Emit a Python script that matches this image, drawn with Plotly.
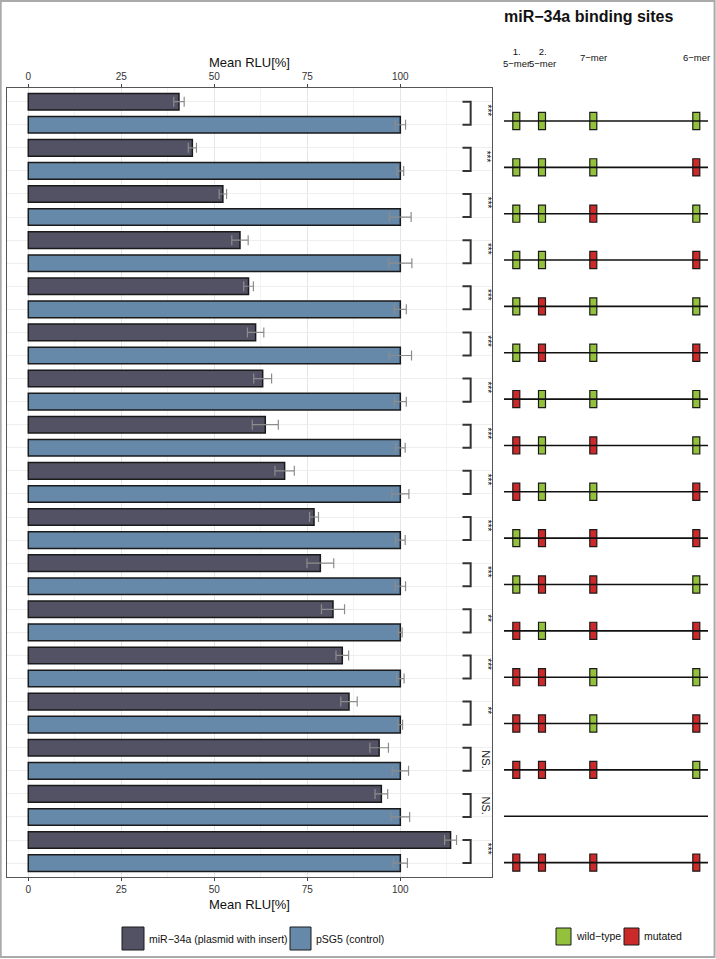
import plotly.graph_objects as go

# ─────────────────────────────────────────────
# data
# ─────────────────────────────────────────────
mir_mean = [40.5, 44.1, 52.3, 56.9, 59.2, 61.1, 63.0, 63.7, 68.9, 76.8,
            78.5, 81.9, 84.4, 86.2, 94.3, 94.9, 113.5]
mir_se = [1.4, 1.1, 1.0, 2.2, 1.3, 2.2, 2.4, 3.5, 2.6, 1.2,
          3.6, 3.1, 1.7, 2.2, 2.5, 1.7, 1.6]
ctrl_mean = [100.0] * 17
ctrl_se = [1.4, 0.9, 2.9, 3.1, 1.6, 3.0, 1.6, 1.3, 2.3, 1.3,
           1.4, 0.5, 1.0, 0.6, 2.2, 2.5, 1.9]
signif = ["***"] * 11 + ["**", "***", "**", "NS.", "NS.", "***"]

# binding sites per construct: W = wild-type, M = mutated ("" = no sites)
site_status = ["WWWW", "WWWM", "WWMW", "WWMM", "WMWW", "WMWM", "MWWW", "MWMW",
               "MWWM", "WMMM", "WMMW", "MWMM", "MMWW", "MMWM", "MMMW", "", "MMMM"]
site_labels = ["1.<br>5−mer", "2.<br>5−mer", "7−mer", "6−mer"]
site_pos = [16.3, 42.0, 93.3, 196.3]
utr_span = [4, 208]
xticks = [0, 25, 50, 75, 100]

W, H = 716, 959
FONT = "Liberation Sans, Arial, sans-serif"
DARK = "#525264"
BLUE = "#6689a9"
GREEN = "#93c13c"
RED = "#cc2a2a"


def px(x):
    return x / W


def py(y):
    return 1 - y / H


def note(x, y, text, size, **kw):
    opts = dict(xref="paper", yref="paper", xanchor="center", yanchor="middle")
    opts.update(kw)
    fig.add_annotation(x=x, y=y, text=text, showarrow=False,
                       font=dict(size=size, color="#111111", family=FONT), **opts)


n = len(mir_mean)
mir_y = [2 * i for i in range(n)]
ctrl_y = [2 * i + 1 for i in range(n)]

fig = go.Figure()

# ── left panel: bars ──
fig.add_trace(go.Bar(
    y=mir_y, x=mir_mean, orientation="h", width=0.72,
    marker=dict(color=DARK, line=dict(color="#1a1a1a", width=1.5)),
    error_x=dict(type="data", array=mir_se, color="#8c8c8c", thickness=1.2, width=5),
    showlegend=False,
))
fig.add_trace(go.Bar(
    y=ctrl_y, x=ctrl_mean, orientation="h", width=0.72,
    marker=dict(color=BLUE, line=dict(color="#1a1a1a", width=1.5)),
    error_x=dict(type="data", array=ctrl_se, color="#8c8c8c", thickness=1.2, width=5),
    showlegend=False,
))

# significance brackets
bx, by = [], []
for a, b in zip(mir_y, ctrl_y):
    bx += [116.7, 118.9, 118.9, 116.7, None]
    by += [a, a, b, b, None]
fig.add_trace(go.Scatter(x=bx, y=by, mode="lines", line=dict(color="#333333", width=2),
                         showlegend=False, hoverinfo="skip"))
# invisible trace for top axis
fig.add_trace(go.Scatter(x=[0], y=[0], xaxis="x3", mode="markers",
                         marker=dict(opacity=0), showlegend=False, hoverinfo="skip"))

for i, s in enumerate(signif):
    ns = s.startswith("NS")
    note(123.0 if ns else 123.4, 2 * i + (0.5 if ns else 0.4), s, 11 if ns else 10,
         xref="x", yref="y", textangle=90)

# ── right panel: binding site map ──
lx, ly = [], []
for g in range(n):
    lx += [utr_span[0], utr_span[1], None]
    ly += [g, g, None]
box_y, box_base, box_col = [], [], []
for g, st in enumerate(site_status):
    for k, c in enumerate(st):
        box_y.append(g)
        box_base.append(site_pos[k] - 3.5)
        box_col.append(GREEN if c == "W" else RED)
fig.add_trace(go.Bar(
    y=box_y, x=[7] * len(box_y), base=box_base, orientation="h", width=0.37,
    marker=dict(color=box_col, line=dict(color="#1a1a1a", width=1.2)),
    xaxis="x2", yaxis="y2", showlegend=False, hoverinfo="skip",
))
fig.add_trace(go.Scatter(x=lx, y=ly, mode="lines", line=dict(color="#111111", width=1.6),
                         xaxis="x2", yaxis="y2", showlegend=False, hoverinfo="skip"))

for lab, p in zip(site_labels, site_pos):
    note(p, py(57), lab, 9.5, xref="x2")

note(px(588), py(17), "<b>miR−34a binding sites</b>", 16)

# axis titles
for yy in (62, 904):
    note(px(249), py(yy), "Mean RLU[%]", 13)

# ── legends (drawn by hand) ──
shapes = [
    dict(type="rect", xref="paper", yref="paper", x0=px(122), x1=px(144), y0=py(950), y1=py(927),
         fillcolor=DARK, line=dict(color="#1a1a1a", width=1)),
    dict(type="rect", xref="paper", yref="paper", x0=px(290), x1=px(311), y0=py(950), y1=py(927),
         fillcolor=BLUE, line=dict(color="#1a1a1a", width=1)),
    dict(type="rect", xref="paper", yref="paper", x0=px(556), x1=px(571), y0=py(945), y1=py(928),
         fillcolor=GREEN, line=dict(color="#1a1a1a", width=1)),
    dict(type="rect", xref="paper", yref="paper", x0=px(624), x1=px(639), y0=py(945), y1=py(928),
         fillcolor=RED, line=dict(color="#1a1a1a", width=1)),
    dict(type="rect", xref="paper", yref="paper", x0=0.001, x1=0.998, y0=0.002, y1=0.999,
         line=dict(color="#aaaaaa", width=2)),
]
for x0, txt, yy in [(147, "miR−34a (plasmid with insert)", 939), (314, "pSG5 (control)", 939),
                    (574, "wild−type", 936), (642, "mutated", 936)]:
    note(px(x0), py(yy), txt, 10.5, xanchor="left")

xrange = [-5.72, 124.5]
ydom = [py(876.5), py(88.3)]
axis_common = dict(range=xrange, domain=[px(7), px(491.5)], tickvals=xticks,
                   ticks="outside", ticklen=3, tickcolor="#444444",
                   tickfont=dict(size=10, color="#333333", family=FONT))
fig.update_layout(
    width=W, height=H, autosize=False,
    margin=dict(l=0, r=0, t=0, b=0),
    paper_bgcolor="white", plot_bgcolor="white",
    barmode="overlay", shapes=shapes,
    xaxis=dict(**axis_common, side="bottom", anchor="y",
               showgrid=True, gridcolor="#e6e6e6", gridwidth=1,
               minor=dict(dtick=12.5, tick0=12.5, showgrid=True, gridcolor="#f3f3f3"),
               showline=True, mirror=True, linecolor="#555555", linewidth=1.2, zeroline=False),
    xaxis3=dict(**axis_common, side="top", anchor="y", overlaying="x",
                showgrid=False, zeroline=False),
    yaxis=dict(domain=ydom, range=[33.58, -0.58], showticklabels=False, ticks="",
               dtick=1, tick0=0, showgrid=True, gridcolor="#eeeeee",
               showline=True, mirror=True, linecolor="#555555", linewidth=1.2, zeroline=False),
    xaxis2=dict(domain=[px(500), px(712)], range=[0, 212], visible=False, anchor="y2"),
    yaxis2=dict(domain=ydom, range=[16.30, -0.705], visible=False, anchor="x2"),
    font=dict(family=FONT),
)

fig.write_html("out.html", config={"displayModeBar": False},
               post_script="document.body.style.margin='0';document.body.style.overflow='hidden';")
